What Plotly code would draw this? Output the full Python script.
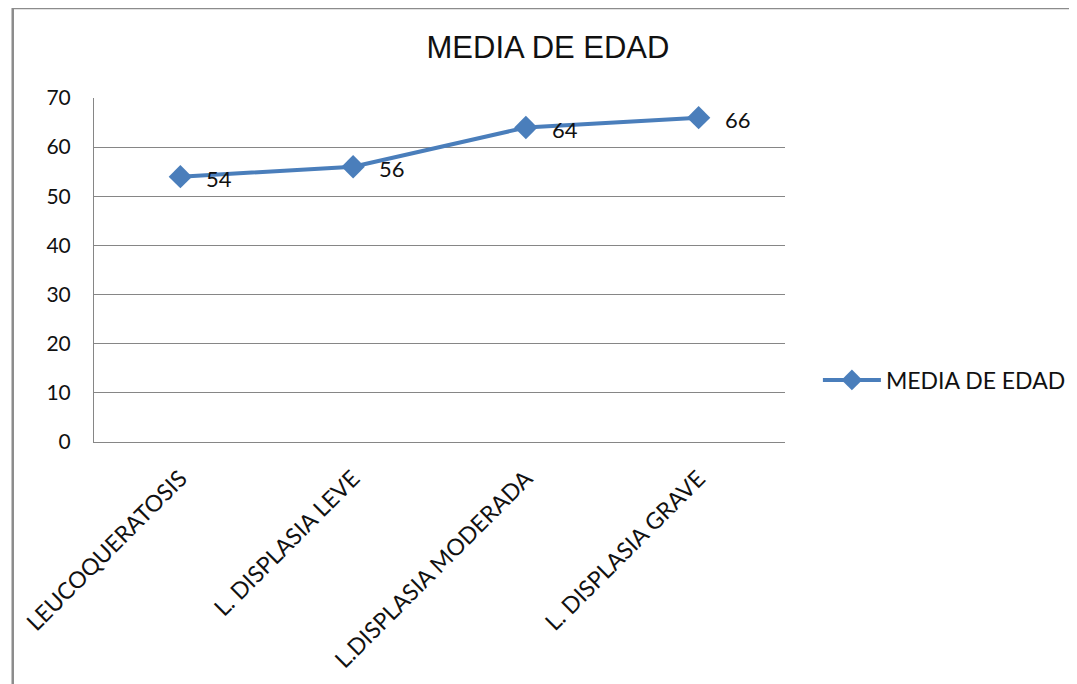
import plotly.graph_objects as go


# -------------------------------------------------
# Data
# -------------------------------------------------

categorias = [
    "LEUCOQUERATOSIS",
    "L. DISPLASIA LEVE",
    "L.DISPLASIA MODERADA",
    "L. DISPLASIA GRAVE",
]

media_edad = [54, 56, 64, 66]

y_ticks = [0, 10, 20, 30, 40, 50, 60, 70]


# -------------------------------------------------
# Chart
# -------------------------------------------------

azul = "#4A7EBB"
gris = "#868686"
fuente = "Lato"

fig = go.Figure()

fig.add_trace(
    go.Scatter(
        x=categorias,
        y=media_edad,
        mode="lines+markers",
        name="MEDIA DE EDAD",
        line=dict(color=azul, width=4),
        marker=dict(symbol="diamond", size=18, color=azul),
        cliponaxis=False,
    )
)

# data labels, right of each point
for cat, val in zip(categorias, media_edad):
    fig.add_annotation(
        x=cat,
        y=val,
        text=str(val),
        showarrow=False,
        xanchor="left",
        yanchor="middle",
        xshift=24,
        yshift=-2,
        font=dict(family=fuente, size=22, color="#111111"),
    )

# chart frame (Excel style border, cut at right and bottom)
fig.add_shape(
    type="rect",
    xref="paper",
    yref="paper",
    x0=(10.5 - 92) / 693,
    x1=(1110 - 92) / 693,
    y0=(442 - 720) / 344,
    y1=(442 - 8) / 344,
    line=dict(color="#8C8C8C", width=2.5),
    fillcolor="rgba(0,0,0,0)",
)

fig.update_layout(
    width=1077,
    height=684,
    margin=dict(l=84, r=300, t=90, b=250),
    paper_bgcolor="white",
    plot_bgcolor="white",
    title=dict(
        text="MEDIA DE EDAD",
        x=540 / 1077,
        xref="container",
        xanchor="center",
        y=1 - 39 / 684,
        yref="container",
        yanchor="middle",
        font=dict(family="Liberation Sans", size=31, color="#111111"),
    ),
    showlegend=True,
    legend=dict(
        x=(818 - 92) / 693,
        xanchor="left",
        y=(442 - 380) / 344,
        yanchor="middle",
        font=dict(family=fuente, size=23, color="#111111"),
        itemwidth=58,
        bgcolor="rgba(0,0,0,0)",
    ),
)

fig.update_xaxes(
    type="category",
    range=[-0.5, 3.5],
    showgrid=False,
    showline=True,
    linecolor=gris,
    linewidth=1,
    tickangle=-45,
    ticks="",
    ticklabelstandoff=13,
    tickfont=dict(family=fuente, size=23, color="#111111"),
    fixedrange=True,
)

fig.update_yaxes(
    range=[0, 70],
    tickvals=y_ticks,
    showgrid=True,
    gridcolor=gris,
    gridwidth=1,
    showline=True,
    linecolor=gris,
    linewidth=1,
    zeroline=False,
    ticks="",
    ticklabelstandoff=18,
    tickfont=dict(family=fuente, size=21, color="#111111"),
    fixedrange=True,
)

fig.write_html("out.html")
